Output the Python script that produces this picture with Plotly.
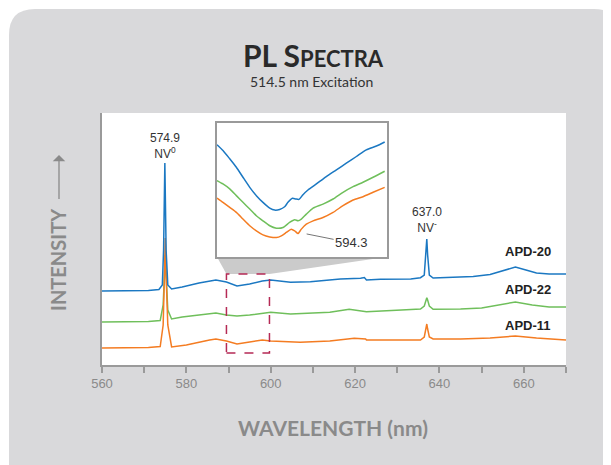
import plotly.graph_objects as go

# ---------------- data ----------------
blue_wl = [560, 566, 571, 573.5, 574.3, 574.6, 574.9, 575.2, 575.6, 576.5, 579, 583, 587, 589.5,
           592, 595, 598, 600, 604.7, 609.4, 616.5, 621.3, 622.2, 622.7, 626, 633.2, 635.5, 636.4,
           636.8, 637.0, 637.2, 637.6, 638.5, 643, 648, 652, 655, 658, 660.5, 663, 666, 670]
blue_i = [74, 74, 74.5, 75.5, 80, 115, 202, 115, 80, 76, 78, 82, 85, 83,
          79, 81, 84, 85, 82.7, 83.3, 86, 86.7, 87.5, 85, 85.7, 86, 87.3, 90,
          110, 126, 110, 90, 87, 87.5, 88.5, 90.5, 94, 98, 95, 92, 91, 91]

green_wl = [560, 566, 571, 573.8, 574.5, 574.8, 575.0, 575.2, 575.6, 576.5, 579, 583, 587, 589.5,
            592, 595, 598, 600, 604.7, 614, 618.6, 622.7, 631, 635.5, 636.4, 636.8, 637.0, 637.2,
            637.6, 638.5, 645, 650, 654, 658, 662, 666, 670]
green_i = [43, 43, 43.5, 44.5, 60, 90, 110, 90, 55, 46, 48, 50, 52, 50,
           49, 50, 52, 52.7, 51, 52.7, 55.7, 53.3, 55, 56, 59, 65, 67.3, 65,
           59, 55.7, 56, 57, 60, 63, 60, 58, 58]

orange_wl = [560, 566, 571, 573.8, 574.5, 574.8, 575.0, 575.2, 575.6, 576.5, 580, 585.5, 587, 589.5,
             592, 595, 598, 600, 607, 614, 619.8, 622.5, 622.7, 631, 635.5, 636.4, 636.8, 637.0,
             637.2, 637.6, 638.5, 645, 652, 658, 663, 670]
orange_i = [17, 17, 17.5, 18.5, 40, 90, 127, 90, 40, 18, 20, 25, 26, 24,
            21, 23, 25, 24, 22.7, 24, 26.7, 26, 25, 25, 25, 28, 36, 41,
            36, 28, 26, 26, 27, 29, 27, 25]

# inset (zoomed 589.5-599.7 nm) traces
inset_blue_wl = [589.50, 589.86, 590.27, 590.67, 591.07, 591.48, 591.88, 592.28, 592.69, 592.99,
                 593.29, 593.59, 593.79, 594.06, 594.26, 594.46, 594.70, 595.00, 595.51, 596.11,
                 596.72, 597.32, 597.93, 598.53, 599.14, 599.64]
inset_blue_i = [83.8, 79.5, 73.3, 67.0, 59.5, 52.0, 45.8, 40.8, 36.5, 35.0,
                35.5, 37.5, 40.8, 43.8, 43.3, 43.0, 46.5, 50.0, 54.5, 60.0,
                65.0, 70.0, 75.0, 80.0, 82.8, 85.8]
inset_green_wl = [589.50, 589.86, 590.27, 590.67, 591.07, 591.48, 591.88, 592.28, 592.69, 593.09,
                  593.49, 593.89, 594.20, 594.40, 594.60, 594.90, 595.31, 595.91, 596.52, 597.12,
                  597.73, 598.33, 598.94, 599.64]
inset_green_i = [57.0, 54.5, 50.8, 45.8, 40.8, 35.8, 30.8, 27.0, 23.3, 21.5,
                 22.0, 25.8, 27.8, 27.0, 28.3, 32.0, 36.5, 39.5, 43.3, 48.3,
                 52.5, 55.8, 59.5, 64.0]
inset_orange_wl = [589.50, 589.86, 590.27, 590.67, 591.07, 591.48, 591.88, 592.28, 592.69, 593.09,
                   593.39, 593.69, 593.99, 594.20, 594.40, 594.60, 594.90, 595.31, 595.91, 596.52,
                   597.12, 597.73, 598.33, 598.94, 599.64]
inset_orange_i = [44.0, 40.8, 37.0, 33.3, 28.3, 23.3, 19.5, 16.5, 15.0, 14.5,
                  15.8, 18.3, 20.8, 19.5, 17.5, 20.8, 24.5, 27.0, 29.5, 33.3,
                  38.3, 42.5, 45.0, 48.3, 52.0]

series_names = ["APD-20", "APD-22", "APD-11"]
tick_vals = [560, 570, 580, 590, 600, 610, 620, 630, 640, 650, 660, 670]
tick_text = ["560", "", "580", "", "600", "", "620", "", "640", "", "660", ""]

peak_nv0 = (574.9, 202)
peak_nvm = (637.0, 126)
dip_label = "594.3"

# ---------------- layout constants ----------------
W, H = 611, 465
OFF = 8                       # page body margin
ML, MR, MT, MB = 94, 53, 105, 108
PW, PH = W - ML - MR, H - MT - MB
X_RANGE = [560, 670]
Y_RANGE = [0, PH]
ZOOM_X = [589.5, 599.7]
ZOOM_Y = [12, 91]
INSET_DX = [(217 - OFF - ML) / PW, (386.5 - OFF - ML) / PW]
INSET_DY = [(H - MB - (257 - OFF)) / PH, (H - MB - (123 - OFF)) / PH]

BLUE, GREEN, ORANGE = "#1b78c2", "#6fbf5b", "#f47c22"
GRAY = "#8a8a8a"


def px(x):   # screen x -> paper
    return (x - OFF - ML) / PW


def py(y):   # screen y -> paper
    return (H - MB - (y - OFF)) / PH


fig = go.Figure()

for wl, iv, col in [(green_wl, green_i, GREEN), (orange_wl, orange_i, ORANGE), (blue_wl, blue_i, BLUE)]:
    fig.add_trace(go.Scatter(x=wl, y=iv, mode="lines", line=dict(color=col, width=1.5),
                             hoverinfo="skip", showlegend=False))


def d2x(f):
    return X_RANGE[0] + f * (X_RANGE[1] - X_RANGE[0])


inset_bottom = INSET_DY[0] * PH
trap_x = [d2x(INSET_DX[0]), d2x(INSET_DX[1]), ZOOM_X[1], ZOOM_X[0], d2x(INSET_DX[0])]
trap_y = [inset_bottom, inset_bottom, ZOOM_Y[1], ZOOM_Y[1], inset_bottom]
fig.add_trace(go.Scatter(x=trap_x, y=trap_y, mode="lines", fill="toself", line=dict(width=0, color="#cbcbcb"),
                         fillcolor="#cbcbcb", hoverinfo="skip", showlegend=False))

for wl, iv, col in [(inset_green_wl, inset_green_i, GREEN), (inset_orange_wl, inset_orange_i, ORANGE),
                    (inset_blue_wl, inset_blue_i, BLUE)]:
    fig.add_trace(go.Scatter(x=wl, y=iv, xaxis="x2", yaxis="y2", mode="lines",
                             line=dict(color=col, width=1.5, shape="spline", smoothing=0.6),
                             hoverinfo="skip", showlegend=False))

card = (f"M {px(9)},{py(35)} Q {px(9)},{py(9)} {px(35)},{py(9)} L {px(594)},{py(9)} "
        f"Q {px(620)},{py(9)} {px(620)},{py(35)} L {px(620)},{py(490)} L {px(9)},{py(490)} Z")

shapes = [
    dict(type="path", path=card, xref="paper", yref="paper", fillcolor="#d9d9db", line=dict(width=0), layer="below"),
    dict(type="rect", xref="paper", yref="paper", x0=0, x1=1, y0=0, y1=1, fillcolor="white",
         line=dict(width=0), layer="below"),
    dict(type="rect", xref="x", yref="y", x0=ZOOM_X[0], x1=ZOOM_X[1], y0=ZOOM_Y[0], y1=ZOOM_Y[1],
         line=dict(color="#b52a55", width=1.5, dash="dash"), layer="above"),
]

LAB = "Liberation Sans, Arial, sans-serif"
HUM = "Lato, Open Sans, sans-serif"

annotations = [
    dict(text="<b>PL S<span style='font-size:22px'>PECTRA</span></b>", x=px(313), y=py(55), xref="paper", yref="paper",
         showarrow=False, font=dict(family=HUM, size=30, color="#2a2a2a"), xanchor="center", yanchor="middle"),
    dict(text="514.5 nm Excitation", x=px(311), y=py(81), xref="paper", yref="paper", showarrow=False,
         font=dict(family=HUM, size=14, color="#333333"), xanchor="center", yanchor="middle"),
    dict(text="<b>WAVELENGTH (nm)</b>", x=px(333), y=py(427), xref="paper", yref="paper", showarrow=False,
         font=dict(family=HUM, size=21, color=GRAY), xanchor="center", yanchor="middle"),
    dict(text="<b>INTENSITY</b>", x=px(58), y=py(260), xref="paper", yref="paper", showarrow=False, textangle=-90,
         font=dict(family=HUM, size=20, color=GRAY), xanchor="center", yanchor="middle"),
    dict(text=" ", x=px(59), y=py(155), xref="paper", yref="paper", showarrow=True, ax=0, ay=48,
         arrowhead=1, arrowsize=1.6, arrowwidth=1.3, arrowcolor=GRAY, standoff=0, startstandoff=0,
         font=dict(size=4)),
    dict(text="574.9<br>NV<sup>0</sup>", x=peak_nv0[0], y=peak_nv0[1], xref="x", yref="y", showarrow=False,
         yanchor="bottom", yshift=0, font=dict(family=LAB, size=12, color="#333333")),
    dict(text="637.0<br>NV<sup>-</sup>", x=peak_nvm[0], y=peak_nvm[1], xref="x", yref="y", showarrow=False,
         yanchor="bottom", yshift=2, font=dict(family=LAB, size=12, color="#333333")),
    dict(text=dip_label, x=594.92, y=17.2, xref="x2", yref="y2", showarrow=True, ax=45, ay=9,
         arrowhead=0, arrowwidth=1, arrowcolor="#777777", font=dict(family=LAB, size=13, color="#333333")),
]
for name, yv in zip(series_names, [114, 75.7, 40]):
    annotations.append(dict(text=f"<b>{name}</b>", x=667, y=yv, xref="x", yref="y", showarrow=False,
                            xanchor="right", yanchor="middle", font=dict(family=LAB, size=13, color="#222222")))

fig.update_layout(
    width=W, height=H, margin=dict(l=ML, r=MR, t=MT, b=MB),
    paper_bgcolor="white", plot_bgcolor="white",
    shapes=shapes, annotations=annotations,
    xaxis=dict(range=X_RANGE, tickvals=tick_vals, ticktext=tick_text, ticks="outside", ticklen=6, tickwidth=1.5,
               tickcolor="#9a9a9a", showline=True, linecolor="#9a9a9a", linewidth=1.5, showgrid=False,
               zeroline=False, tickfont=dict(family=LAB, size=13, color=GRAY)),
    yaxis=dict(range=Y_RANGE, showline=True, linecolor="#9a9a9a", linewidth=1.5, showgrid=False, zeroline=False,
               showticklabels=False, ticks=""),
    xaxis2=dict(domain=INSET_DX, anchor="y2", range=[589.5, 599.75], showline=True, mirror=True,
                linecolor="#9a9a9a", linewidth=1.5, showgrid=False, zeroline=False, showticklabels=False, ticks=""),
    yaxis2=dict(domain=INSET_DY, anchor="x2", range=[0, 100], showline=True, mirror=True,
                linecolor="#9a9a9a", linewidth=1.5, showgrid=False, zeroline=False, showticklabels=False, ticks=""),
)

fig.write_html("out.html")
